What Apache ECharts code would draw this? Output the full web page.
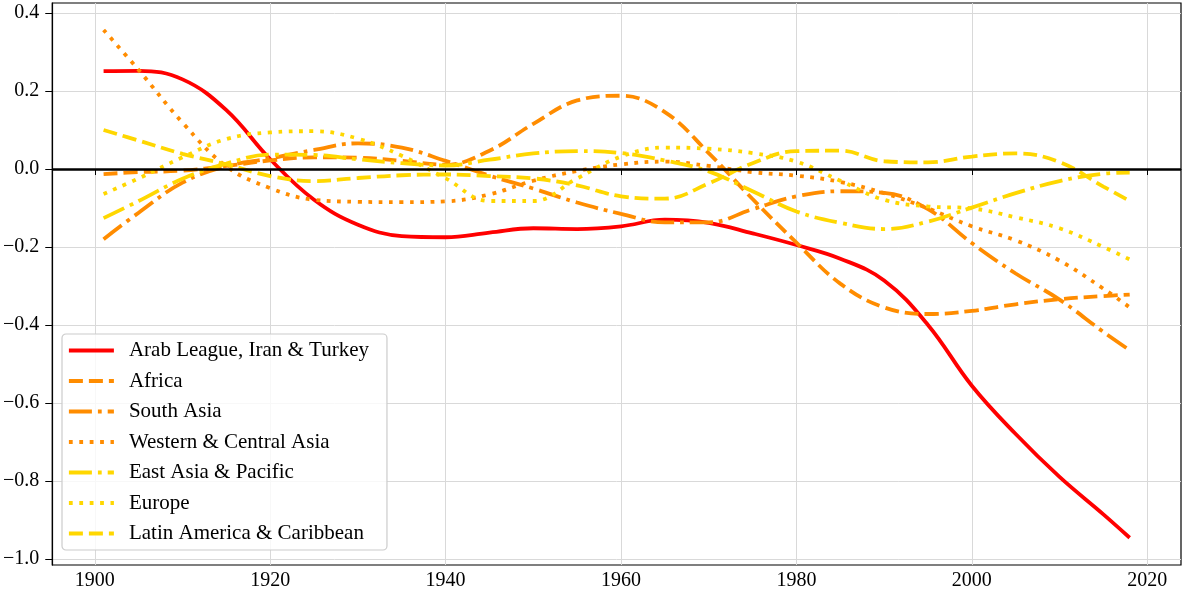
<!DOCTYPE html>
<html>
<head>
<meta charset="utf-8">
<script src="https://cdn.jsdelivr.net/npm/echarts@6/dist/echarts.min.js"></script>
<style>
  html, body { margin: 0; padding: 0; background: #fff; }
  #chart { width: 1182px; height: 594px; }
</style>
</head>
<body>
<div id="chart"></div>
<script>
// years sampled along the curves
const years = [1901, 1905, 1910, 1915, 1920, 1925, 1930, 1935, 1940, 1945, 1950, 1955, 1960,
  1965, 1970, 1975, 1980, 1985, 1990, 1995, 2000, 2005, 2010, 2015, 2018];

const arabLeague = [0.251, 0.252, 0.230, 0.151, 0.025, -0.079, -0.143, -0.172, -0.175, -0.163, -0.152, -0.154, -0.147,
  -0.130, -0.138, -0.165, -0.195, -0.230, -0.286, -0.400, -0.556, -0.680, -0.790, -0.886, -0.946];
const africa = [-0.013, -0.008, -0.004, 0.008, 0.022, 0.030, 0.029, 0.021, 0.011, 0.047, 0.116, 0.176, 0.188,
  0.146, 0.041, -0.077, -0.189, -0.294, -0.355, -0.372, -0.364, -0.347, -0.334, -0.326, -0.322];
const southAsia = [-0.180, -0.112, -0.035, 0.007, 0.027, 0.049, 0.066, 0.055, 0.021, -0.017, -0.050, -0.086, -0.115,
  -0.137, -0.137, -0.103, -0.070, -0.057, -0.061, -0.103, -0.190, -0.268, -0.335, -0.418, -0.465];
const westCentralAsia = [0.357, 0.254, 0.119, 0.007, -0.049, -0.079, -0.084, -0.085, -0.083, -0.065, -0.030, -0.005, 0.012,
  0.019, 0.008, -0.008, -0.017, -0.033, -0.062, -0.101, -0.147, -0.183, -0.235, -0.307, -0.355];
const eastAsia = [-0.126, -0.082, -0.025, 0.014, 0.037, 0.036, 0.025, 0.015, 0.009, 0.024, 0.040, 0.046, 0.041,
  0.022, -0.006, -0.057, -0.109, -0.138, -0.154, -0.135, -0.099, -0.062, -0.031, -0.012, -0.009];
const europe = [-0.064, -0.024, 0.030, 0.077, 0.094, 0.097, 0.078, 0.034, -0.024, -0.082, -0.082, -0.024, 0.032,
  0.055, 0.052, 0.041, 0.019, -0.030, -0.079, -0.096, -0.101, -0.124, -0.152, -0.200, -0.232];
const latinAmerica = [0.100, 0.073, 0.039, 0.012, -0.018, -0.031, -0.023, -0.016, -0.014, -0.018, -0.024, -0.042, -0.070,
  -0.076, -0.037, 0.015, 0.046, 0.047, 0.020, 0.017, 0.032, 0.040, 0.018, -0.045, -0.082];

const xTicks = [1900, 1920, 1940, 1960, 1980, 2000, 2020];
const yTicks = [-1.0, -0.8, -0.6, -0.4, -0.2, 0.0, 0.2, 0.4];

const FONT = 'Liberation Serif';
const LW = 3.8;
const RED = '#ff0000';
const ORANGE = '#ff8c00';
const GOLD = '#ffd700';
const DASHED = [14, 6];
const DOTTED = [3.8, 6.6];
const DASHDOT = [23, 6, 3.8, 6];

const lines = [
  { name: 'Arab League, Iran & Turkey', values: arabLeague, color: RED, type: 'solid' },
  { name: 'Africa', values: africa, color: ORANGE, type: DASHED },
  { name: 'South Asia', values: southAsia, color: ORANGE, type: DASHDOT },
  { name: 'Western & Central Asia', values: westCentralAsia, color: ORANGE, type: DOTTED },
  { name: 'East Asia & Pacific', values: eastAsia, color: GOLD, type: DASHDOT },
  { name: 'Europe', values: europe, color: GOLD, type: DOTTED },
  { name: 'Latin America & Caribbean', values: latinAmerica, color: GOLD, type: DASHED }
];

const chart = echarts.init(document.getElementById('chart'));

const series = [
  // zero reference line
  {
    name: 'zero',
    type: 'line',
    data: [],
    z: 1,
    markLine: {
      silent: true,
      symbol: 'none',
      label: { show: false },
      lineStyle: { color: '#000', width: 2.6, type: 'solid' },
      data: [{ yAxis: 0 }]
    }
  }
].concat(lines.map(l => ({
  name: l.name,
  type: 'line',
  data: years.map((y, i) => [y, l.values[i]]),
  smooth: 0.4,
  symbol: 'none',
  z: 3,
  color: l.color,
  lineStyle: { color: l.color, width: LW, type: l.type, cap: 'butt' }
})));

const option = {
  animation: false,
  backgroundColor: '#fff',
  grid: {
    left: 51, right: 1, top: 3, bottom: 29,
    show: true, borderColor: '#000', borderWidth: 1.2
  },
  legend: {
    data: lines.map(l => l.name),
    orient: 'vertical',
    left: 62,
    top: 334,
    padding: [6, 18, 6, 5],
    itemWidth: 45,
    itemHeight: 14,
    itemGap: 9.5,
    itemStyle: { color: 'transparent', borderWidth: 0, opacity: 0 },
    lineStyle: { width: LW },
    backgroundColor: 'rgba(255,255,255,0.8)',
    borderColor: '#cccccc',
    borderWidth: 1.2,
    borderRadius: 4,
    textStyle: { fontFamily: FONT, fontSize: 21, color: '#000', lineHeight: 21, padding: [0, 0, 0, 10] }
  },
  xAxis: {
    type: 'value',
    min: 1895.15,
    max: 2023.85,
    axisLine: { show: true, lineStyle: { color: '#000', width: 1.2 } },
    axisTick: { show: true, customValues: xTicks, length: 6, lineStyle: { color: '#000', width: 1 } },
    axisLabel: {
      customValues: xTicks,
      margin: 6,
      fontFamily: FONT, fontSize: 20, color: '#000',
      formatter: v => String(Math.round(v))
    },
    splitLine: { show: true, lineStyle: { color: '#d9d9d9', width: 1 } }
  },
  yAxis: {
    type: 'value',
    min: -1.016,
    max: 0.426,
    axisLine: { show: true, lineStyle: { color: '#000', width: 1.2 } },
    axisTick: { show: true, customValues: yTicks, length: 7, lineStyle: { color: '#000', width: 1 } },
    axisLabel: {
      customValues: yTicks,
      margin: 13,
      fontFamily: FONT, fontSize: 20, color: '#000',
      formatter: v => v.toFixed(1).replace('-', '\u2212')
    },
    splitLine: { show: true, lineStyle: { color: '#d9d9d9', width: 1 } }
  },
  series: series
};

chart.setOption(option);
window.addEventListener('resize', () => chart.resize());
</script>
</body>
</html>
